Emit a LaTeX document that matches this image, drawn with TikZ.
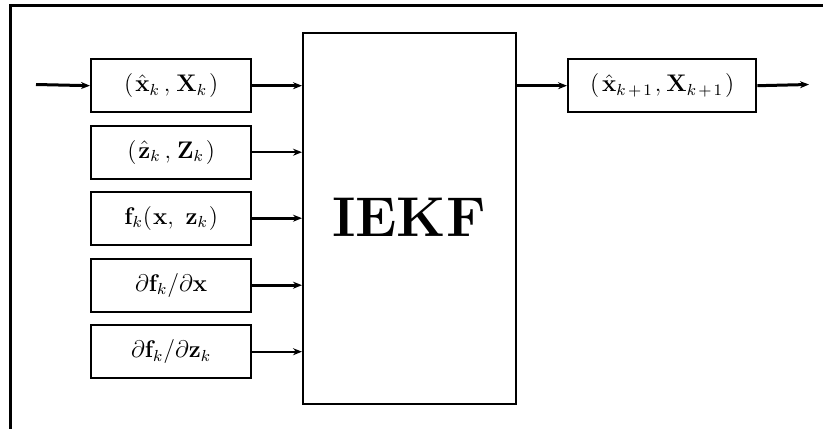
\documentclass[tikz,border=0pt]{standalone}
\usetikzlibrary{arrows.meta}
\begin{document}
\begin{tikzpicture}[x=0.5pt,y=-0.5pt,
  blk/.style={draw,line width=1.2pt,anchor=north west,minimum width=80pt,minimum height=26.5pt,inner sep=0pt,font=\large},
  big/.style={draw,line width=1.2pt,anchor=north west,minimum width=106.5pt,minimum height=185.5pt,inner sep=0pt},
  thick arr/.style={line width=1.5pt,-{Stealth[length=4.5pt,width=3.5pt]}},
  thin arr/.style={line width=0.9pt,-{Stealth[length=4.5pt,width=3.5pt]}},
  frame/.style={line width=1.5pt}]
\useasboundingbox (0,0) rectangle (823,429);
\draw[frame] (823,5) -- (10,5) -- (10,429);
\node[blk] (b1) at (90,58) {$(\kern1pt\hat{\mathbf x}_k\kern2pt,\kern1pt\mathbf X_k\kern1pt)$};
\node[blk] (b2) at (90,124.5) {$(\kern1pt\hat{\mathbf z}_k\kern2pt,\kern1pt\mathbf Z_k\kern1pt)$};
\node[blk] (b3) at (90,190.5) {$\mathbf f_k(\kern0.5pt\mathbf x,\ \mathbf z_k\kern0.5pt)$};
\node[blk] (b4) at (90,257.5) {$\partial\mathbf f_k/\partial\mathbf x$};
\node[blk] (b5) at (90,324) {$\partial\mathbf f_k/\partial\mathbf z_k$};
\node[big] (iekf) at (302,32) {};
\node (lbl) at (409,217) {\fontsize{28}{30}\selectfont\bfseries IEKF};
\node[blk,minimum width=94pt] (out) at (567,58) {$(\kern1.5pt\hat{\mathbf x}_{k\kern1.2pt+\kern1pt1}\kern1pt,\kern0.5pt\mathbf X_{k\kern1.2pt+\kern1pt1}\kern1pt)$};
\coordinate (in) at (36,84.5);
\coordinate (fin) at (809,84.5);
\draw[thick arr] (in) -- (b1.west);
\draw[thick arr] (b1.east) -- (b1.east -| iekf.west);
\draw[thin arr] (b2.east) -- (b2.east -| iekf.west);
\draw[thick arr] (b3.east) -- (b3.east -| iekf.west);
\draw[thick arr] (b4.east) -- (b4.east -| iekf.west);
\draw[thin arr] (b5.east) -- (b5.east -| iekf.west);
\draw[thick arr] (b1.east -| iekf.east) -- (out.west);
\draw[thick arr] (out.east) -- (fin);
\end{tikzpicture}
\end{document}
